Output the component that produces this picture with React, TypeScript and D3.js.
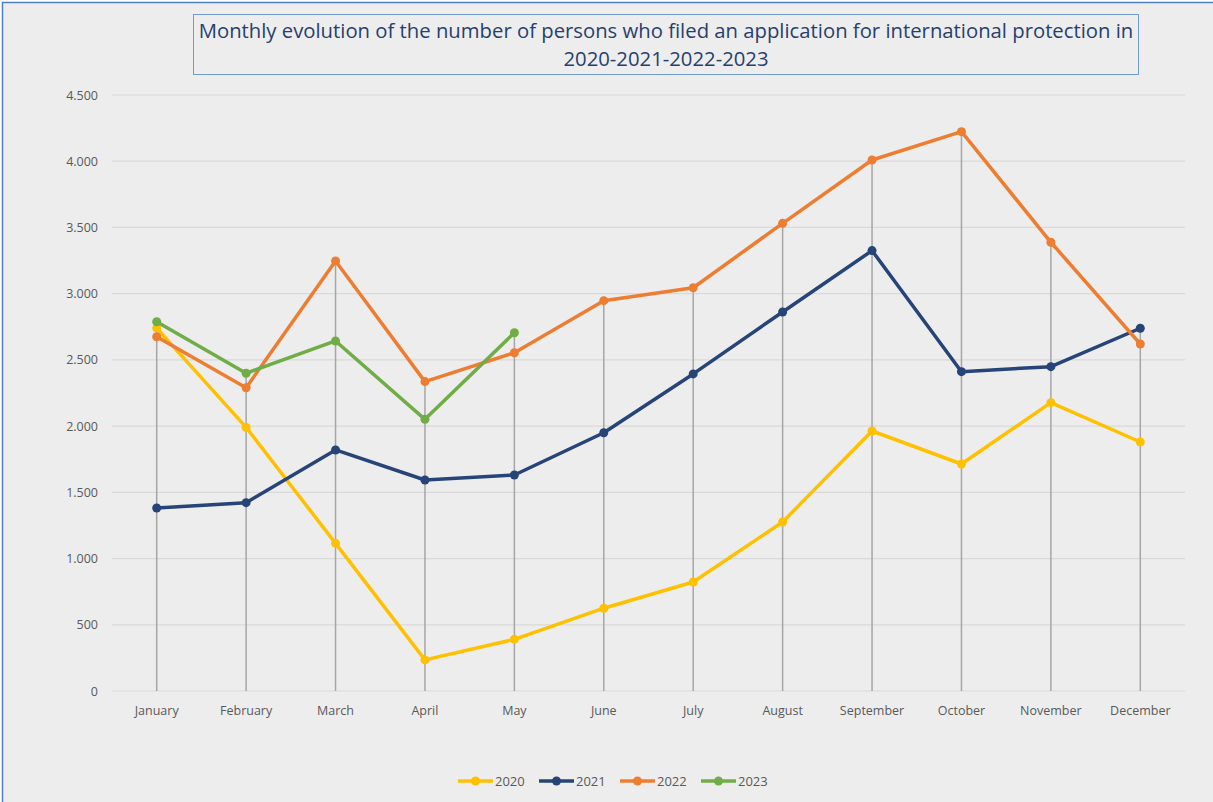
import * as d3 from "d3";
import { useEffect, useRef } from "react";

// ---- data ----
const months = ["January", "February", "March", "April", "May", "June", "July", "August", "September", "October", "November", "December"];
const yTicks = [0, 500, 1000, 1500, 2000, 2500, 3000, 3500, 4000, 4500];
const years = ["2020", "2021", "2022", "2023"];
const colors = ["#FFC000", "#264478", "#ED7D31", "#70AD47"];

const v2020 = [2740, 1990, 1115, 235, 390, 625, 823, 1276, 1963, 1714, 2177, 1880];
const v2021 = [1382, 1422, 1820, 1593, 1631, 1950, 2394, 2862, 3325, 2411, 2449, 2739];
const v2022 = [2675, 2290, 3247, 2336, 2554, 2947, 3045, 3531, 4009, 4223, 3388, 2620];
const v2023 = [2788, 2399, 2643, 2051, 2705];

const title1 = "Monthly evolution of the number of persons who filed an application for international protection in";
const title2 = "2020-2021-2022-2023";

export default function App() {
  const ref = useRef<SVGSVGElement | null>(null);

  useEffect(() => {
    const W = 1213;
    const H = 802;
    const margin = { top: 95, right: 28, bottom: 111, left: 112 };
    const innerW = W - margin.left - margin.right;
    const innerH = H - margin.top - margin.bottom;
    const font = "'Open Sans', 'Liberation Sans', sans-serif";

    const svg = d3.select(ref.current);
    svg.selectAll("*").remove();

    // background + frame
    svg.append("rect").attr("width", W).attr("height", H).attr("fill", "#ffffff");
    svg.append("rect")
      .attr("x", 2.5).attr("y", 2.5)
      .attr("width", W + 20).attr("height", H + 20)
      .attr("fill", "#EDEDED")
      .attr("stroke", "#4F81BD")
      .attr("stroke-width", 1.5);

    // title box
    svg.append("rect")
      .attr("x", 193.5).attr("y", 14.5)
      .attr("width", 945).attr("height", 60)
      .attr("fill", "#EDEDED")
      .attr("stroke", "#6F9BD1")
      .attr("stroke-width", 1);
    [title1, title2].forEach((t, i) => {
      svg.append("text")
        .attr("x", 666).attr("y", 38 + i * 28)
        .attr("text-anchor", "middle")
        .attr("font-family", font)
        .attr("font-size", 20.3)
        .attr("fill", "#26406E")
        .text(t);
    });

    const g = svg.append("g").attr("transform", `translate(${margin.left},${margin.top})`);

    // scales
    const x = d3.scaleBand().domain(months).range([0, innerW]);
    const cx = (m: string) => (x(m) ?? 0) + x.bandwidth() / 2;
    const y = d3.scaleLinear().domain([0, 4500]).range([innerH, 0]);

    // gridlines
    g.append("g")
      .selectAll("line")
      .data(yTicks)
      .join("line")
      .attr("x1", 0).attr("x2", innerW)
      .attr("y1", (d) => y(d)).attr("y2", (d) => y(d))
      .attr("stroke", "#D9D9D9")
      .attr("stroke-width", 1.2);

    // y labels
    g.append("g")
      .selectAll("text")
      .data(yTicks)
      .join("text")
      .attr("x", -14)
      .attr("y", (d) => y(d) + 4.5)
      .attr("text-anchor", "end")
      .attr("font-family", font)
      .attr("font-size", 12.5)
      .attr("fill", "#595959")
      .text((d) => d3.format(",")(d).replace(/,/g, "."));

    // x labels
    g.append("g")
      .selectAll("text")
      .data(months)
      .join("text")
      .attr("x", (d) => cx(d))
      .attr("y", innerH + 24)
      .attr("text-anchor", "middle")
      .attr("font-family", font)
      .attr("font-size", 12.5)
      .attr("fill", "#595959")
      .text((d) => d);

    const series = [v2020, v2021, v2022, v2023];

    // drop lines from highest point to axis
    const maxes = months.map((_, i) => d3.max(series, (s) => s[i]) ?? 0);
    g.append("g")
      .selectAll("line")
      .data(months)
      .join("line")
      .attr("x1", (d) => cx(d)).attr("x2", (d) => cx(d))
      .attr("y1", (_, i) => y(maxes[i]))
      .attr("y2", innerH)
      .attr("stroke", "#A6A6A6")
      .attr("stroke-width", 1.5);

    // lines
    const line = d3.line<number>()
      .x((_, i) => cx(months[i]))
      .y((d) => y(d));

    series.forEach((s, k) => {
      g.append("path")
        .datum(s)
        .attr("d", line)
        .attr("fill", "none")
        .attr("stroke", colors[k])
        .attr("stroke-width", 3.5)
        .attr("stroke-linejoin", "round");
      g.append("g")
        .selectAll("circle")
        .data(s)
        .join("circle")
        .attr("cx", (_, i) => cx(months[i]))
        .attr("cy", (d) => y(d))
        .attr("r", 4.5)
        .attr("fill", colors[k]);
    });

    // legend
    const lg = svg.append("g").attr("transform", "translate(458,781)");
    years.forEach((yr, k) => {
      const ox = k * 81;
      lg.append("line")
        .attr("x1", ox).attr("x2", ox + 35)
        .attr("y1", 0).attr("y2", 0)
        .attr("stroke", colors[k])
        .attr("stroke-width", 3.5);
      lg.append("circle")
        .attr("cx", ox + 17.5).attr("cy", 0).attr("r", 4.5)
        .attr("fill", colors[k]);
      lg.append("text")
        .attr("x", ox + 37).attr("y", 4.5)
        .attr("font-family", font)
        .attr("font-size", 13)
        .attr("fill", "#595959")
        .text(yr);
    });
  }, []);

  return (
    <svg
      ref={ref}
      width={1213}
      height={802}
      style={{ position: "absolute", left: 0, top: 0, display: "block" }}
    />
  );
}
